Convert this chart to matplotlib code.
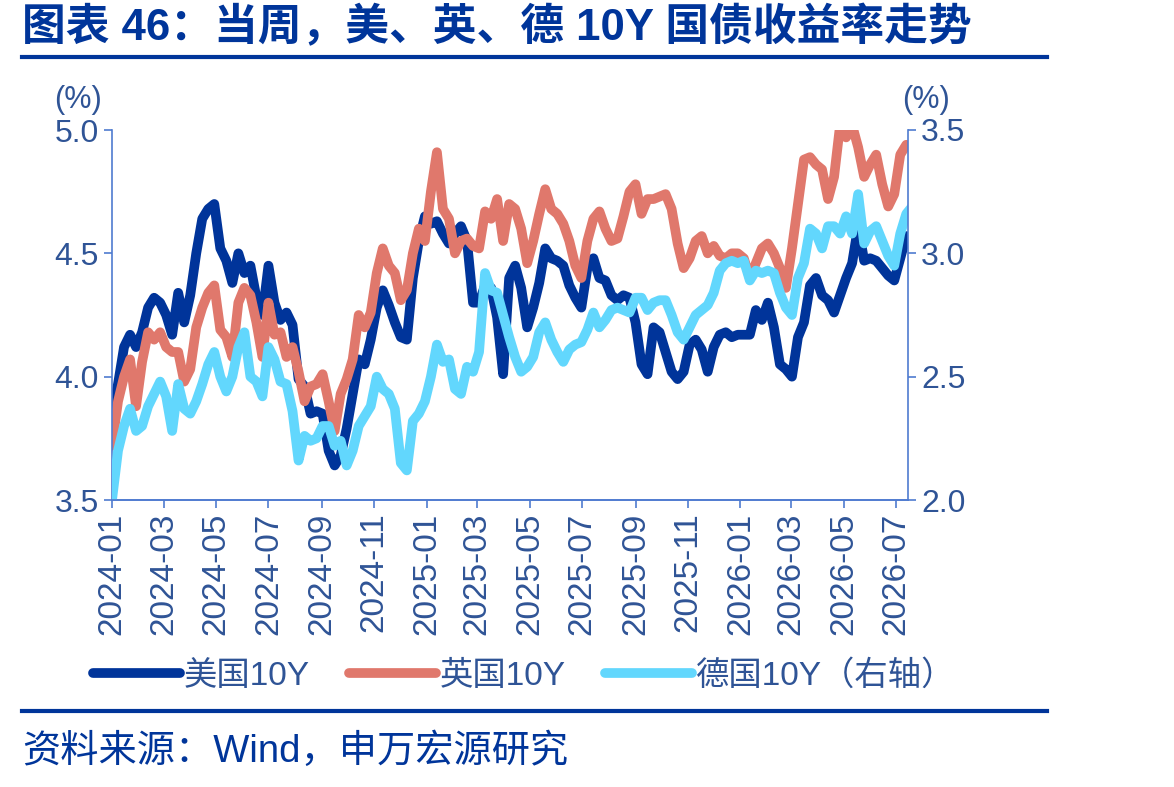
import pandas as pd
import matplotlib.pyplot as plt
import matplotlib.dates as mdates
from matplotlib.lines import Line2D
from matplotlib.ticker import FormatStrFormatter

plt.rcParams['font.family'] = ['Liberation Sans', 'Noto Sans CJK SC', 'DejaVu Sans']

dates = pd.date_range('2024-01-01', periods=134, freq='7D')

us_10y = [3.85, 3.97, 4.12, 4.17, 4.12, 4.18, 4.28, 4.32, 4.30, 4.25,
          4.17, 4.34, 4.22, 4.33, 4.50, 4.64, 4.68, 4.70, 4.52, 4.47,
          4.38, 4.50, 4.42, 4.45, 4.32, 4.25, 4.45, 4.30, 4.23, 4.26,
          4.21, 3.99, 3.96, 3.85, 3.86, 3.85, 3.70, 3.64, 3.68, 3.79,
          3.93, 4.07, 4.05, 4.15, 4.28, 4.35, 4.29, 4.22, 4.16, 4.15,
          4.40, 4.55, 4.65, 4.62, 4.63, 4.58, 4.54, 4.58, 4.61, 4.55,
          4.30, 4.30, 4.37, 4.36, 4.24, 4.01, 4.40, 4.45, 4.36, 4.20,
          4.28, 4.38, 4.52, 4.48, 4.47, 4.45, 4.37, 4.32, 4.28, 4.44,
          4.48, 4.40, 4.39, 4.33, 4.31, 4.33, 4.32, 4.22, 4.05, 4.01,
          4.20, 4.18, 4.10, 4.02, 3.99, 4.02, 4.13, 4.15, 4.11, 4.02,
          4.12, 4.17, 4.18, 4.16, 4.17, 4.17, 4.17, 4.27, 4.23, 4.30,
          4.20, 4.05, 4.03, 4.00, 4.16, 4.22, 4.37, 4.40, 4.33, 4.31,
          4.26, 4.33, 4.40, 4.46, 4.61, 4.47, 4.48, 4.47, 4.44, 4.41,
          4.39, 4.48, 4.57, 4.55]

uk_10y = [3.72, 3.90, 4.00, 4.07, 3.88, 4.06, 4.18, 4.15, 4.18, 4.12,
          4.10, 4.10, 3.98, 4.03, 4.20, 4.28, 4.34, 4.37, 4.19, 4.16,
          4.08, 4.30, 4.36, 4.33, 4.22, 4.08, 4.30, 4.17, 4.18, 4.08,
          4.12, 4.02, 3.90, 3.96, 3.97, 4.01, 3.90, 3.78, 3.93, 3.99,
          4.07, 4.25, 4.20, 4.26, 4.42, 4.52, 4.45, 4.42, 4.31, 4.35,
          4.50, 4.60, 4.55, 4.75, 4.91, 4.68, 4.64, 4.50, 4.55, 4.56,
          4.53, 4.52, 4.67, 4.64, 4.72, 4.55, 4.70, 4.68, 4.60, 4.46,
          4.55, 4.66, 4.76, 4.68, 4.66, 4.62, 4.55, 4.45, 4.40, 4.55,
          4.64, 4.67, 4.60, 4.55, 4.56, 4.65, 4.75, 4.78, 4.66, 4.72,
          4.72, 4.73, 4.74, 4.68, 4.54, 4.44, 4.48, 4.55, 4.57, 4.50,
          4.53, 4.49, 4.48, 4.50, 4.50, 4.48, 4.40, 4.46, 4.52, 4.54,
          4.50, 4.44, 4.36, 4.52, 4.70, 4.88, 4.89, 4.86, 4.84, 4.72,
          4.81, 5.02, 4.97, 5.02, 4.93, 4.81, 4.86, 4.90, 4.78, 4.69,
          4.74, 4.90, 4.94, 4.93]

de_10y = [2.00, 2.20, 2.30, 2.37, 2.28, 2.30, 2.38, 2.43, 2.48, 2.42,
          2.28, 2.47, 2.37, 2.35, 2.40, 2.47, 2.55, 2.60, 2.50, 2.44,
          2.50, 2.62, 2.68, 2.50, 2.48, 2.42, 2.62, 2.57, 2.48, 2.47,
          2.36, 2.16, 2.26, 2.24, 2.25, 2.30, 2.30, 2.22, 2.24, 2.14,
          2.20, 2.30, 2.34, 2.38, 2.50, 2.45, 2.43, 2.37, 2.15, 2.12,
          2.32, 2.35, 2.40, 2.50, 2.63, 2.56, 2.57, 2.45, 2.43, 2.54,
          2.52, 2.60, 2.92, 2.85, 2.84, 2.75, 2.66, 2.58, 2.52, 2.54,
          2.58, 2.68, 2.72, 2.65, 2.60, 2.56, 2.61, 2.63, 2.64, 2.69,
          2.76, 2.70, 2.73, 2.77, 2.78, 2.77, 2.76, 2.82, 2.82, 2.77,
          2.80, 2.81, 2.81, 2.75, 2.68, 2.65, 2.70, 2.75, 2.77, 2.79,
          2.84, 2.93, 2.96, 2.97, 2.96, 2.97, 2.89, 2.93, 2.92, 2.93,
          2.92, 2.84, 2.78, 2.75, 2.90, 2.96, 3.10, 3.08, 3.02, 3.11,
          3.11, 3.08, 3.15, 3.08, 3.24, 3.04, 3.09, 3.11, 3.05, 2.99,
          2.95, 3.08, 3.16, 3.19]

navy = '#00359A'
axis_blue = '#4F7BD0'
label_blue = '#2F5496'

fig = plt.figure(figsize=(11.74, 7.87), dpi=100)
ax1 = fig.add_axes([112/1174, 1-500/787, 796/1174, 370/787])
ax2 = ax1.twinx()

ax1.plot(dates, us_10y, color='#00349A', lw=7, solid_capstyle='round', solid_joinstyle='round', label='美国10Y')
ax1.plot(dates, uk_10y, color='#E0786C', lw=7, solid_capstyle='round', solid_joinstyle='round', label='英国10Y')
ax2.plot(dates, de_10y, color='#62D7FD', lw=7, solid_capstyle='round', solid_joinstyle='round', label='德国10Y（右轴）')

ax1.set_xlim(pd.Timestamp('2024-01-01'), pd.Timestamp('2026-07-15'))
ax1.set_ylim(3.5, 5.0)
ax2.set_ylim(2.0, 3.5)
ax1.set_yticks([3.5, 4.0, 4.5, 5.0])
ax2.set_yticks([2.0, 2.5, 3.0, 3.5])
ax1.yaxis.set_major_formatter(FormatStrFormatter('%.1f'))
ax2.yaxis.set_major_formatter(FormatStrFormatter('%.1f'))

ax1.xaxis.set_major_locator(mdates.MonthLocator(bymonth=[1, 3, 5, 7, 9, 11]))
ax1.xaxis.set_major_formatter(mdates.DateFormatter('%Y-%m'))

for ax in (ax1, ax2):
    ax.spines['top'].set_visible(False)
    for s in ('left', 'right', 'bottom'):
        ax.spines[s].set_color(axis_blue)
        ax.spines[s].set_linewidth(1.2)
    ax.tick_params(axis='both', colors=axis_blue, length=6, width=1.2, labelcolor=label_blue, labelsize=23)
ax1.spines['right'].set_visible(False)
ax2.spines['left'].set_visible(False)
ax1.tick_params(axis='x', labelrotation=90, labelsize=24, pad=3)

ax1.text(-0.043, 1.08, '(%)', transform=ax1.transAxes, ha='center', va='center', fontsize=22, color=label_blue)
ax2.text(1.022, 1.08, '(%)', transform=ax2.transAxes, ha='center', va='center', fontsize=22, color=label_blue)

# legend below the date labels
h1, l1 = ax1.get_legend_handles_labels()
h2, l2 = ax2.get_legend_handles_labels()
leg = fig.legend(h1 + h2, l1 + l2, loc='center', bbox_to_anchor=(524/1174, 1-676/787), ncol=3,
                 frameon=False, fontsize=24, handlelength=2.6, handletextpad=0.1, columnspacing=1.2)
for t in leg.get_texts():
    t.set_color(label_blue)
for line in leg.get_lines():
    line.set_linewidth(7)

# title, rules and source
fig.text(22/1174, 1-28/787, '图表 46：当周，美、英、德 10Y 国债收益率走势', ha='left', va='center',
         fontsize=31.5, fontweight='bold', color=navy)
fig.add_artist(Line2D([22/1174, 1047/1174], [1-57/787, 1-57/787], color=navy, lw=3))
fig.add_artist(Line2D([22/1174, 1047/1174], [1-711/787, 1-711/787], color=navy, lw=3))
fig.text(22/1174, 1-752/787, '资料来源：Wind，申万宏源研究', ha='left', va='center', fontsize=27.5, color=navy)

fig.savefig('out.png', dpi=100)
